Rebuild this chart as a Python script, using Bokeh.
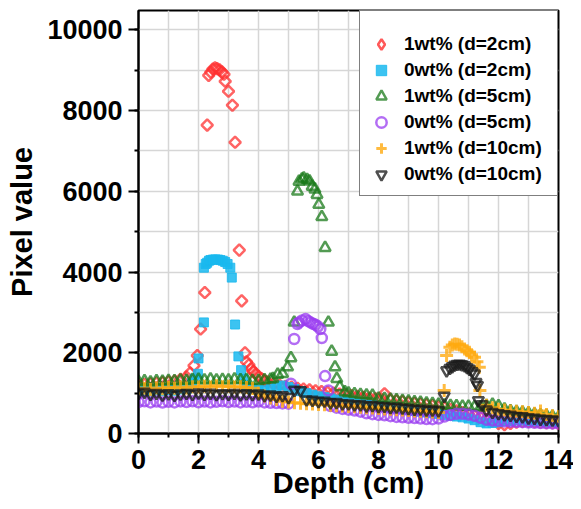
from bokeh.plotting import figure
from bokeh.models import Range1d, SingleIntervalTicker, Legend, LegendItem
from bokeh.embed import file_html
from bokeh.resources import INLINE

# ---------------- data ----------------
# 1wt% (d=2cm)
red_x = [0, 0.2, 0.4, 0.6, 0.8, 1.0, 1.2, 1.4, 1.6,
         1.72, 1.85, 1.96, 2.07, 2.21, 2.29, 2.34, 2.41, 2.48, 2.55,
         2.62, 2.7, 2.78, 2.85, 2.89, 3.0, 3.13, 3.22, 3.36, 3.44,
         3.55, 3.6, 3.68, 3.75, 3.83, 3.9, 4.0, 4.1, 4.2, 4.3,
         4.5, 4.7, 4.9, 5.1, 5.3, 5.5, 5.7, 5.9, 6.1, 6.3,
         6.5, 6.7, 6.9, 7.1, 7.3, 7.5, 7.7, 7.9, 8.1,
         8.2,
         8.4, 8.6, 8.8, 9.0, 9.2, 9.4, 9.6, 9.8, 10.0, 10.2,
         10.4, 10.6, 10.8, 11.0, 11.2, 11.4, 11.6, 11.8, 12.0, 12.2,
         12.4, 12.6, 12.8, 13.0, 13.2, 13.4, 13.6, 13.8, 14.0]
red_y = [1200, 1220, 1230, 1250, 1260, 1280, 1300, 1340, 1400,
         1500, 1684, 1930, 2588, 3492, 7641, 8873, 8950, 9030, 9060,
         9040, 9010, 8960, 8900, 8726, 8479, 8134, 7215, 4543, 3286,
         1997, 1775, 1700, 1600, 1540, 1480, 1420, 1355, 1310, 1280,
         1230, 1200, 1170, 1150, 1120, 1100, 1080, 1060, 1040, 1020,
         1000, 980, 960, 940, 920, 900, 880, 860, 850,
         986,
         830, 810, 790, 770, 750, 730, 710, 690, 660, 640,
         600, 560, 520, 480, 440, 400, 350, 300, 250, 220,
         250, 280, 300, 300, 290, 280, 270, 260, 250]

# 0wt% (d=2cm)
cyan_x = [0, 0.2, 0.4, 0.6, 0.8, 1.0, 1.2, 1.4, 1.6,
          1.78, 1.87, 1.98, 2.0, 2.18, 2.18, 2.24, 2.29, 2.35, 2.40,
          2.48, 2.56, 2.65, 2.73, 2.81, 2.89, 2.97, 3.06, 3.11, 3.22,
          3.33, 3.42, 3.5, 3.6,
          3.8, 4.0, 4.2, 4.4, 4.6, 4.8, 5.0, 5.2, 5.4, 5.6,
          5.8, 6.0, 6.2, 6.4, 6.6, 6.8, 7.0, 7.2, 7.4, 7.6,
          7.8, 8.0, 8.2, 8.4, 8.6, 8.8, 9.0, 9.2, 9.4, 9.6,
          9.8, 10.0, 10.2, 10.4, 10.6, 10.8, 11.0, 11.2, 11.4, 11.6,
          11.8, 12.0, 12.2, 12.4, 12.6, 12.8, 13.0, 13.2, 13.4, 13.6,
          13.8, 14.0]
cyan_y = [1050, 1060, 1040, 1070, 1050, 1080, 1060, 1090, 1100,
          1250, 1356, 1479, 1860, 2753, 4108, 4200, 4232, 4280, 4297,
          4310, 4314, 4310, 4297, 4280, 4248, 4200, 4108, 3862, 2700,
          1910, 1570, 1350, 1180,
          1100, 1080, 1070, 1100, 1150, 1190, 1150, 1100, 1050, 1000,
          960, 920, 900, 870, 840, 810, 780, 760, 740, 720,
          700, 680, 660, 640, 620, 600, 580, 560, 540, 520,
          500, 480, 460, 440, 420, 400, 370, 330, 280, 250,
          260, 280, 300, 310, 320, 320, 310, 300, 300, 290,
          290, 280]

# 1wt% (d=5cm)
green_x = [0, 0.2, 0.4, 0.6, 0.8, 1.0, 1.2, 1.4, 1.6, 1.8,
           2.0, 2.2, 2.4, 2.6, 2.8, 3.0, 3.2, 3.4, 3.6, 3.8,
           4.0, 4.2, 4.4,
           4.48, 4.64, 4.80, 4.97, 5.08, 5.19, 5.30, 5.35, 5.45, 5.51,
           5.62, 5.70, 5.79, 5.88, 5.95, 6.01, 6.11, 6.22, 6.33, 6.44,
           6.55, 6.61, 6.71, 6.88,
           7.0, 7.2, 7.4, 7.6, 7.8, 8.0, 8.2, 8.4, 8.6, 8.8,
           9.0, 9.2, 9.4, 9.6, 9.8, 10.0, 10.2, 10.4, 10.6, 10.8,
           11.0, 11.2, 11.4, 11.6, 11.8, 12.0, 12.2, 12.4, 12.6, 12.8,
           13.0, 13.2, 13.4, 13.6, 13.8, 14.0]
green_y = [1280, 1300, 1270, 1300, 1290, 1310, 1300, 1320, 1310, 1330,
           1340, 1320, 1345, 1320, 1335, 1320, 1345, 1325, 1330, 1310,
           1305, 1325, 1340,
           1356, 1460, 1479, 1644, 1870, 2753, 5997, 6244, 6300, 6327,
           6285, 6250, 6120, 6050, 5916, 5669, 5366, 4602, 2753, 2030,
           1644, 1356, 1151, 1028,
           1000, 980, 960, 950, 940, 870, 860, 840, 830, 815,
           800, 780, 770, 750, 740, 720, 700, 690, 680, 670,
           670, 660, 650, 690, 720, 680, 600, 560, 540, 520,
           500, 480, 460, 440, 420, 400]

# 0wt% (d=5cm)
purple_x = [0, 0.2, 0.4, 0.6, 0.8, 1.0, 1.2, 1.4, 1.6, 1.8,
            2.0, 2.2, 2.4, 2.6, 2.8, 3.0, 3.2, 3.4, 3.6, 3.8,
            4.0, 4.2, 4.4, 4.6, 4.8,
            5.0, 5.08, 5.19, 5.30, 5.35, 5.45, 5.57, 5.65, 5.73, 5.82,
            5.90, 5.98, 6.06, 6.11, 6.22, 6.33,
            6.4, 6.6, 6.8, 7.0, 7.2, 7.4, 7.6, 7.8, 8.0, 8.2,
            8.4, 8.6, 8.8, 9.0, 9.2, 9.4, 9.6, 9.8, 10.0, 10.2,
            10.4, 10.6, 10.8, 11.0, 11.2, 11.4, 11.6, 11.8, 12.0, 12.2,
            12.4, 12.6, 12.8, 13.0, 13.2, 13.4, 13.6, 13.8, 14.0]
purple_y = [780, 800, 770, 790, 765, 785, 770, 795, 780, 800,
            775, 790, 770, 785, 800, 780, 790, 770, 785, 775,
            790, 770, 760, 755, 745,
            740, 1232, 2342, 2711, 2753, 2800, 2835, 2790, 2753, 2720,
            2695, 2650, 2588, 2366, 1422, 1067,
            680, 640, 610, 590, 570, 540, 500, 480, 460, 450,
            430, 410, 400, 390, 385, 370, 360, 355, 370, 420,
            460, 490, 490, 470, 440, 390, 340, 320, 310, 300,
            290, 285, 280, 270, 265, 260, 255, 250, 245]

# 1wt% (d=10cm)
orange_x = [0, 0.2, 0.4, 0.6, 0.8, 1.0, 1.2, 1.4, 1.6, 1.8,
            2.0, 2.2, 2.4, 2.6, 2.8, 3.0, 3.2, 3.4, 3.6, 3.8,
            4.0, 4.2, 4.4, 4.6, 4.8, 5.0, 5.2, 5.4, 5.6, 5.8,
            6.0, 6.2, 6.4, 6.6, 6.8, 7.0, 7.2, 7.4, 7.6, 7.8,
            8.0, 8.2, 8.4, 8.6, 8.8, 9.0, 9.2, 9.4, 9.6, 9.8,
            10.0,
            10.19, 10.27, 10.38, 10.46, 10.54, 10.62, 10.7, 10.78, 10.87, 10.95,
            11.03, 11.1, 11.2, 11.28, 11.36, 11.38,
            11.6, 11.8, 12.0, 12.2, 12.4, 12.6, 12.8, 13.0, 13.2, 13.4,
            13.6, 13.8, 14.0]
orange_y = [1100, 1120, 1090, 1130, 1110, 1140, 1120, 1150, 1130, 1160,
            1150, 1170, 1150, 1180, 1160, 1170, 1150, 1160, 1140, 1120,
            1000, 930, 880, 840, 800, 780, 760, 750, 740, 730,
            720, 710, 700, 690, 680, 670, 660, 650, 640, 630,
            620, 610, 600, 590, 580, 570, 560, 550, 540, 530,
            520,
            1067, 1930, 2137, 2190, 2218, 2210, 2194, 2150, 2095, 2050,
            2014, 1950, 1890, 1780, 1644, 1067,
            700, 640, 600, 580, 560, 550, 540, 520, 500, 560,
            470, 440, 420]

# 0wt% (d=10cm)
black_x = [0, 0.2, 0.4, 0.6, 0.8, 1.0, 1.2, 1.4, 1.6, 1.8,
           2.0, 2.2, 2.4, 2.6, 2.8, 3.0, 3.2, 3.4, 3.6, 3.8,
           4.0, 4.2, 4.4, 4.6, 4.8, 5.0, 5.2, 5.4, 5.6, 5.8,
           6.0, 6.2, 6.4, 6.6, 6.8, 7.0, 7.2, 7.4, 7.6, 7.8,
           8.0, 8.2, 8.4, 8.6, 8.8, 9.0, 9.2, 9.4, 9.6, 9.8,
           10.0,
           10.19, 10.27, 10.38, 10.46, 10.54, 10.62, 10.7, 10.78, 10.87, 10.95,
           11.03, 11.12, 11.2, 11.25, 11.3, 11.33, 11.45,
           11.6, 11.8, 12.0, 12.2, 12.4, 12.6, 12.8, 13.0, 13.2, 13.4,
           13.6, 13.8, 14.0]
black_y = [1000, 1030, 975, 1000, 960, 990, 955, 985, 1000, 975,
           1010, 980, 1005, 970, 995, 975, 1000, 965, 990, 970,
           985, 950, 960, 930, 945, 900, 1080, 1070, 840, 830,
           800, 810, 770, 775, 740, 740, 715, 720, 690, 700,
           675, 680, 650, 660, 635, 625, 605, 610, 585, 590,
           570,
           929, 1560, 1620, 1660, 1700, 1720, 1725, 1710, 1684, 1640,
           1600, 1540, 1480, 1274, 1200, 822, 720,
           590, 530, 500, 470, 460, 430, 420, 390, 385, 360,
           355, 340, 330]

labels = ["1wt% (d=2cm)", "0wt% (d=2cm)", "1wt% (d=5cm)",
          "0wt% (d=5cm)", "1wt% (d=10cm)", "0wt% (d=10cm)"]
x_ticks_interval = 2
y_ticks_interval = 2000

# ---------------- figure ----------------
FONT = "Liberation Sans"
RED = "#ff3030"
p = figure(width=573, height=501, output_backend="svg", toolbar_location=None,
           x_range=Range1d(0, 14), y_range=Range1d(0, 10480),
           min_border_left=138, min_border_right=15,
           min_border_top=10, min_border_bottom=66,
           background_fill_color="white", border_fill_color="white")
# an off-view range used only by the legend key of the first series
p.extra_y_ranges = {"legend_key": Range1d(-30000, -20000)}

p.outline_line_color = "black"
p.outline_line_width = 2

p.xaxis.ticker = SingleIntervalTicker(interval=x_ticks_interval, num_minor_ticks=2)
p.yaxis.ticker = SingleIntervalTicker(interval=y_ticks_interval, num_minor_ticks=2)
p.xgrid.ticker = SingleIntervalTicker(interval=1)
p.ygrid.ticker = SingleIntervalTicker(interval=1000)
for g in (p.xgrid, p.ygrid):
    g.grid_line_color = "#d6d6d6"
    g.grid_line_width = 1.5

for ax in (p.xaxis, p.yaxis):
    ax.axis_line_width = 2
    ax.axis_line_color = "black"
    ax.major_tick_line_width = 2
    ax.minor_tick_line_width = 2
    ax.major_tick_line_color = "black"
    ax.minor_tick_line_color = "black"
    ax.major_tick_out = 10
    ax.major_tick_in = 0
    ax.minor_tick_out = 4
    ax.minor_tick_in = 0
    ax.major_label_text_font = FONT
    ax.major_label_text_font_style = "bold"
    ax.major_label_text_font_size = "27px"
    ax.major_label_text_color = "black"
    ax.axis_label_text_font = FONT
    ax.axis_label_text_font_style = "bold"
    ax.axis_label_text_font_size = "29px"
    ax.axis_label_text_color = "black"

p.xaxis.axis_label = "Depth (cm)"
p.yaxis.axis_label = "Pixel value"
p.xaxis.major_label_standoff = 6
p.yaxis.major_label_standoff = 6
p.xaxis.axis_label_standoff = -5
p.yaxis.axis_label_standoff = 6

r_red = p.scatter(red_x, red_y, marker="square", angle=0.7854, size=8,
                  fill_color=None, line_color=RED, line_alpha=0.75, line_width=2.5)
# legend key: same series drawn on an off-view range so only the legend shows a diamond
r_red_key = p.scatter(red_x, red_y, marker="diamond", size=12, y_range_name="legend_key",
                      fill_color=None, line_color=RED, line_alpha=0.8, line_width=2.5)
r_cyan = p.scatter(cyan_x, cyan_y, marker="square", size=9,
                   fill_color="#1ab8ef", fill_alpha=0.85, line_color="#1ab8ef",
                   line_alpha=0.85, line_width=1)
r_green = p.scatter(green_x, green_y, marker="triangle", size=11,
                    fill_color=None, line_color="#1a7a1a", line_alpha=0.75, line_width=2.5)
r_purple = p.scatter(purple_x, purple_y, marker="circle", size=10,
                     fill_color=None, line_color="#9a3cf0", line_alpha=0.75, line_width=2.5)
r_orange = p.scatter(orange_x, orange_y, marker="cross", size=13,
                     line_color="#ffaa10", line_alpha=0.8, line_width=3)
r_black = p.scatter(black_x, black_y, marker="inverted_triangle", size=11,
                    fill_color=None, line_color="#1c1c1c", line_alpha=0.78, line_width=2.5)

items = [LegendItem(label=labels[0], renderers=[r_red_key]),
         LegendItem(label=labels[1], renderers=[r_cyan]),
         LegendItem(label=labels[2], renderers=[r_green]),
         LegendItem(label=labels[3], renderers=[r_purple]),
         LegendItem(label=labels[4], renderers=[r_orange]),
         LegendItem(label=labels[5], renderers=[r_black])]

lg = Legend(items=items, location="top_right")
lg.margin = 0
lg.padding = 8
lg.spacing = 0
lg.label_height = 26
lg.glyph_height = 26
lg.glyph_width = 26
lg.label_standoff = 10
lg.label_width = 145
lg.title = " "
lg.title_text_font_size = "8px"
lg.title_standoff = 3
lg.border_line_color = "black"
lg.border_line_width = 1.5
lg.background_fill_color = "white"
lg.background_fill_alpha = 1.0
lg.label_text_font = FONT
lg.label_text_font_style = "bold"
lg.label_text_font_size = "19px"
lg.label_text_color = "black"
p.add_layout(lg)

open("out.html", "w").write(file_html(p, INLINE))
